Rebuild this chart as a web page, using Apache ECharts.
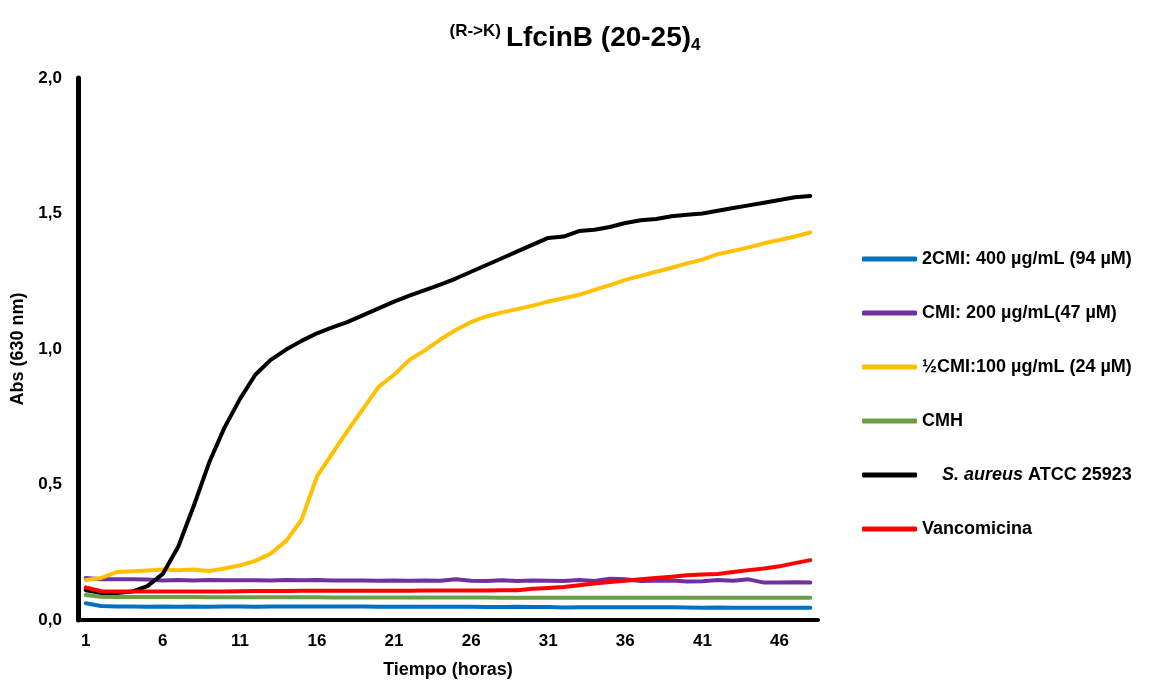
<!DOCTYPE html>
<html>
<head>
<meta charset="utf-8">
<script src="https://cdn.jsdelivr.net/npm/echarts@6/dist/echarts.min.js"></script>
<style>
  html, body { margin: 0; padding: 0; background: #fff; }
  #chart { width: 1150px; height: 681px; }
</style>
</head>
<body>
<div id="chart"></div>
<script>
// eje x: horas 1..48
var horas = [1, 2, 3, 4, 5, 6, 7, 8, 9, 10, 11, 12, 13, 14, 15, 16, 17, 18, 19, 20, 21, 22, 23, 24,
             25, 26, 27, 28, 29, 30, 31, 32, 33, 34, 35, 36, 37, 38, 39, 40, 41, 42, 43, 44, 45, 46, 47, 48];

var nombres = ['2CMI: 400 µg/mL (94 µM)', 'CMI: 200 µg/mL(47 µM)', '½CMI:100 µg/mL (24 µM)',
               'CMH', 'S. aureus ATCC 25923', 'Vancomicina'];
var colores = ['#0070C0', '#7030A0', '#FFC000', '#6A9F45', '#000000', '#FF0000'];

var cmi2 = [0.062, 0.052, 0.050, 0.050, 0.049, 0.050, 0.049, 0.050, 0.049, 0.050, 0.050, 0.049,
            0.050, 0.050, 0.050, 0.050, 0.050, 0.050, 0.050, 0.049, 0.049, 0.049, 0.049, 0.049,
            0.049, 0.049, 0.048, 0.048, 0.049, 0.048, 0.048, 0.046, 0.047, 0.047, 0.047, 0.047,
            0.047, 0.047, 0.047, 0.046, 0.045, 0.046, 0.045, 0.045, 0.045, 0.045, 0.045, 0.045];
var cmi = [0.155, 0.150, 0.150, 0.150, 0.149, 0.146, 0.148, 0.146, 0.148, 0.147, 0.147, 0.147,
           0.146, 0.148, 0.147, 0.148, 0.146, 0.146, 0.146, 0.145, 0.146, 0.145, 0.146, 0.145,
           0.150, 0.145, 0.144, 0.147, 0.144, 0.146, 0.145, 0.144, 0.148, 0.144, 0.152, 0.150,
           0.144, 0.145, 0.146, 0.142, 0.143, 0.148, 0.145, 0.150, 0.138, 0.138, 0.139, 0.138];
var mediaCmi = [0.148, 0.155, 0.177, 0.180, 0.183, 0.186, 0.184, 0.186, 0.181, 0.190, 0.201, 0.218,
                0.245, 0.292, 0.370, 0.530, 0.615, 0.700, 0.780, 0.860, 0.905, 0.960, 0.995, 1.035,
                1.070, 1.100, 1.120, 1.135, 1.147, 1.160, 1.175, 1.187, 1.200, 1.218, 1.236, 1.255,
                1.270, 1.285, 1.300, 1.316, 1.330, 1.350, 1.362, 1.375, 1.390, 1.402, 1.415, 1.430];
var cmh = [0.092, 0.086, 0.085, 0.085, 0.085, 0.085, 0.085, 0.085, 0.084, 0.084, 0.084, 0.084,
           0.084, 0.084, 0.084, 0.084, 0.083, 0.083, 0.083, 0.083, 0.083, 0.083, 0.083, 0.083,
           0.083, 0.083, 0.083, 0.082, 0.082, 0.082, 0.082, 0.082, 0.082, 0.082, 0.082, 0.082,
           0.082, 0.082, 0.082, 0.082, 0.082, 0.082, 0.082, 0.082, 0.082, 0.082, 0.082, 0.082];
var aureus = [0.110, 0.100, 0.100, 0.105, 0.125, 0.170, 0.270, 0.420, 0.580, 0.710, 0.815, 0.905,
              0.960, 0.998, 1.030, 1.058, 1.080, 1.100, 1.125, 1.150, 1.175, 1.197, 1.217, 1.238,
              1.260, 1.285, 1.310, 1.335, 1.360, 1.385, 1.410, 1.415, 1.435, 1.440, 1.450, 1.465,
              1.475, 1.480, 1.490, 1.495, 1.500, 1.510, 1.520, 1.530, 1.540, 1.550, 1.560, 1.565];
var vanco = [0.120, 0.106, 0.105, 0.105, 0.105, 0.105, 0.105, 0.105, 0.105, 0.105, 0.106, 0.107,
             0.107, 0.107, 0.108, 0.108, 0.108, 0.108, 0.108, 0.108, 0.108, 0.108, 0.109, 0.109,
             0.109, 0.109, 0.109, 0.110, 0.110, 0.115, 0.118, 0.122, 0.128, 0.135, 0.140, 0.145,
             0.150, 0.155, 0.160, 0.165, 0.168, 0.170, 0.177, 0.184, 0.190, 0.198, 0.210, 0.221];

var datos = [cmi2, cmi, mediaCmi, cmh, aureus, vanco];

var fuente = 'Liberation Sans, Arial, sans-serif';

var series = [];
for (var i = 0; i < datos.length; i++) {
    series.push({
        name: nombres[i],
        type: 'line',
        symbol: 'none',   // sin puntos
        smooth: false,
        lineStyle: { width: 4, color: colores[i], cap: 'round', join: 'round' },
        itemStyle: { color: colores[i] },
        data: datos[i]
    });
}

var option = {
    animation: false,
    backgroundColor: '#fff',
    title: {
        text: '{sup|(R->K)} {main|LfcinB (20-25)}{sub|4}',
        left: 'center',
        top: 18,
        textStyle: {
            rich: {
                sup: { fontFamily: fuente, fontWeight: 'bold', fontSize: 17, color: '#000', verticalAlign: 'top', padding: [0, 0, 12, 0] },
                main: { fontFamily: fuente, fontWeight: 'bold', fontSize: 28, color: '#000' },
                sub: { fontFamily: fuente, fontWeight: 'bold', fontSize: 17, color: '#000', verticalAlign: 'bottom', padding: [14, 0, 0, 0] }
            }
        }
    },
    legend: {
        orient: 'vertical',
        left: 857,
        top: 245,
        itemWidth: 55,
        itemHeight: 5,
        itemGap: 36,
        icon: 'roundRect',
        data: nombres,
        textStyle: {
            fontFamily: fuente,
            fontWeight: 'bold',
            fontSize: 18,
            color: '#000',
            rich: {
                it: { fontFamily: fuente, fontWeight: 'bold', fontStyle: 'italic', fontSize: 18, color: '#000' }
            }
        },
        formatter: function (name) {
            if (name === 'S. aureus ATCC 25923') {
                return '    {it|S. aureus} ATCC 25923';
            }
            return name;
        }
    },
    grid: {
        left: 78,
        top: 78,
        right: 332,
        bottom: 61,
        containLabel: false,
        outerBoundsMode: 'none'
    },
    xAxis: {
        type: 'category',
        boundaryGap: true,
        data: horas,
        name: 'Tiempo (horas)',
        nameLocation: 'middle',
        nameGap: 41,
        nameTextStyle: { fontFamily: fuente, fontWeight: 'bold', fontSize: 18, color: '#000' },
        axisLine: { lineStyle: { color: '#000', width: 4 } },
        axisTick: { show: false },
        axisLabel: {
            interval: 4,
            margin: 13,
            fontFamily: fuente,
            fontWeight: 'bold',
            fontSize: 17,
            color: '#000'
        },
        splitLine: { show: false }
    },
    yAxis: {
        type: 'value',
        min: 0,
        max: 2,
        interval: 0.5,
        name: 'Abs (630 nm)',
        nameLocation: 'middle',
        nameGap: 46,
        nameTextStyle: { fontFamily: fuente, fontWeight: 'bold', fontSize: 18, color: '#000' },
        axisLine: { show: true, lineStyle: { color: '#000', width: 5 } },
        axisTick: { show: false },
        axisLabel: {
            margin: 16,
            fontFamily: fuente,
            fontWeight: 'bold',
            fontSize: 17,
            color: '#000',
            formatter: function (v) { return v.toFixed(1).replace('.', ','); }
        },
        splitLine: { show: false }
    },
    series: series
};

var myChart = echarts.init(document.getElementById('chart'));
myChart.setOption(option);
</script>
</body>
</html>
